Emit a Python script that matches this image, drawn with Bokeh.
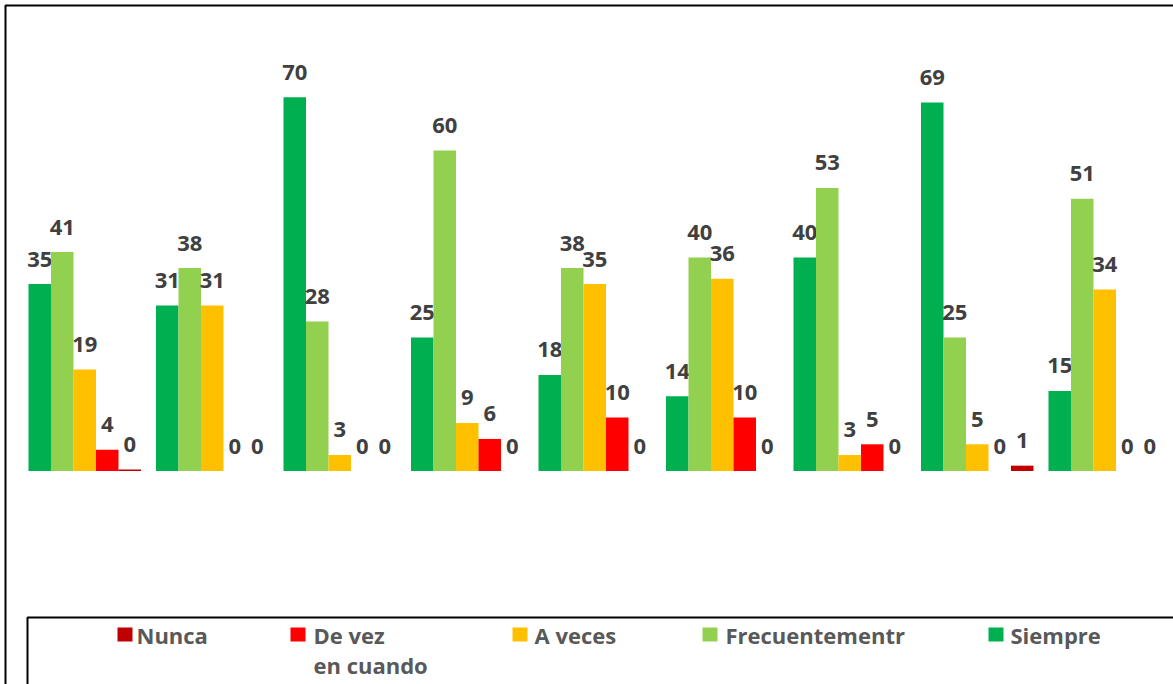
import numpy as np
from bokeh.plotting import figure
from bokeh.models import Range1d, BoxAnnotation, ColumnDataSource
from bokeh.core.properties import value
from bokeh.embed import file_html
from bokeh.resources import INLINE

# ---------------- data ----------------
groups = ["1", "2", "3", "4", "5", "6", "7", "8", "9"]
siempre = [35, 31, 70, 25, 18, 14, 40, 69, 15]
frecuentemente = [41, 38, 28, 60, 38, 40, 53, 25, 51]
a_veces = [19, 31, 3, 9, 35, 36, 3, 5, 34]
de_vez = [4, 0, 0, 6, 10, 10, 5, 0, 0]
nunca = [0.3, 0, 0, 0, 0, 0, 0, 1, 0]

series_values = [siempre, frecuentemente, a_veces, de_vez, nunca]
series_colors = ["#00B050", "#92D050", "#FFC000", "#FF0000", "#C00000"]

legend_labels = ["Nunca", "De vez\nen cuando", "A veces", "Frecuentementr", "Siempre"]
legend_colors = ["#C00000", "#FF0000", "#FFC000", "#92D050", "#00B050"]

# ---------------- layout ----------------
W, H = 1173, 684
PAGE_OFF = 0
XS = 127.5          # px per category
YS = 5.34           # px per unit
X_START = 0.5 - (84.25 - PAGE_OFF) / XS
X_END = X_START + W / XS
Y_END = (470.5 - PAGE_OFF) / YS
Y_START = Y_END - H / YS
BAR_W = 22.5 / XS


def px_to_x(px):
    return X_START + (px - PAGE_OFF) / XS


def py_to_y(py):
    return Y_END - (py - PAGE_OFF) / YS


p = figure(width=W, height=H, output_backend="svg", toolbar_location=None,
           title=None, x_range=Range1d(X_START, X_END), y_range=Range1d(Y_START, Y_END),
           min_border=0, min_border_left=0, min_border_right=0,
           min_border_top=0, min_border_bottom=0)
p.xaxis.visible = False
p.yaxis.visible = False
p.grid.visible = False
p.outline_line_color = None
p.background_fill_color = "white"
p.border_fill_color = "white"

idx = np.arange(len(groups)) + 0.5
offsets = [-2, -1, 0, 1, 2]
for vals, col, off in zip(series_values, series_colors, offsets):
    xs = idx + off * BAR_W
    src = ColumnDataSource(dict(x=xs, top=vals,
                                lab=[str(int(round(v))) for v in vals]))
    p.vbar(x="x", top="top", bottom=0, width=BAR_W, source=src,
           fill_color=col, line_color=None)
    p.text(x="x", y="top", text="lab", source=src, text_align="center",
           text_baseline="alphabetic", y_offset=-25,
           text_font=value("Open Sans"), text_font_style="bold",
           text_font_size="22px", text_color="#404040")

# outer frame (only left/top visible in the crop)
p.add_layout(BoxAnnotation(left=px_to_x(5), top=py_to_y(5),
                           right=px_to_x(3000), bottom=py_to_y(3000),
                           fill_color=None, fill_alpha=0,
                           line_color="black", line_alpha=1.0, line_width=2))
# legend box
p.add_layout(BoxAnnotation(left=px_to_x(27), top=py_to_y(617),
                           right=px_to_x(3000), bottom=py_to_y(3000),
                           fill_color=None, fill_alpha=0,
                           line_color="black", line_alpha=1.0, line_width=2))

# legend entries
sq_left = [117, 290, 512, 702, 988]
txt_left = [136, 313, 534, 725, 1010]
for lab, col, sl, tl in zip(legend_labels, legend_colors, sq_left, txt_left):
    p.rect(x=[px_to_x(sl + 7.5)], y=[py_to_y(634)], width=15, height=14,
           width_units="screen", height_units="screen",
           fill_color=col, line_color=None)
    for j, line in enumerate(lab.split("\n")):
        p.text(x=[px_to_x(tl)], y=[py_to_y(634 + 30 * j)], text=[line],
               text_align="left", text_baseline="alphabetic",
               text_font=value("Open Sans"), text_font_style="bold",
               text_font_size="22px", text_color="#595959")

open("out.html", "w").write(file_html(p, INLINE))
